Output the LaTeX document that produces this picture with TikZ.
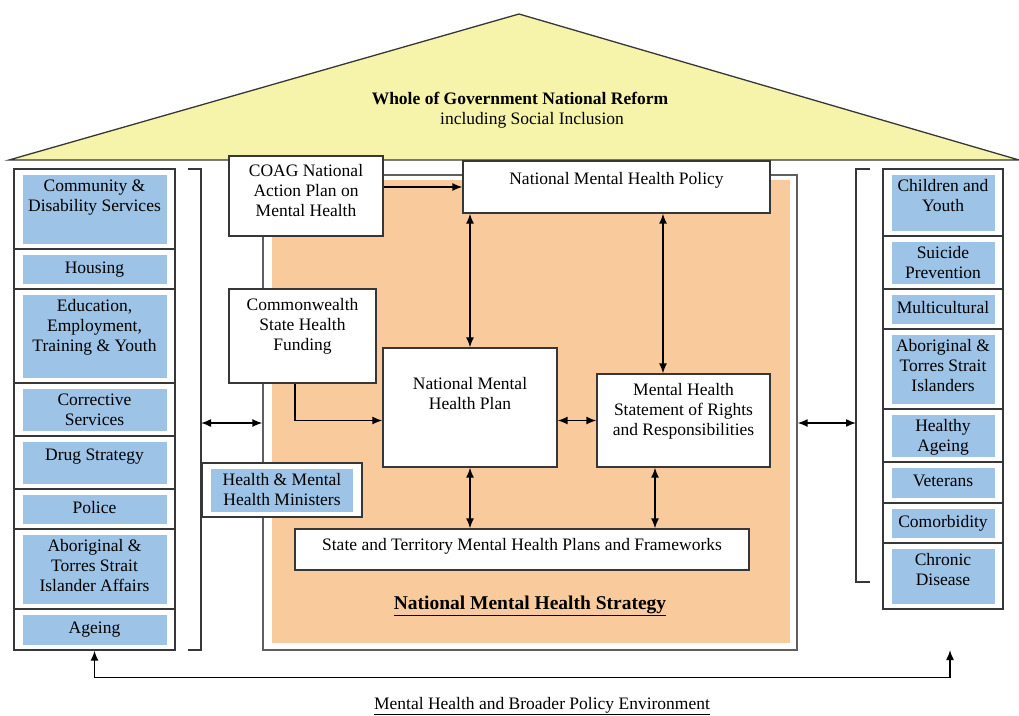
\documentclass[tikz,border=0pt]{standalone}
\usepackage{fontspec}
\setmainfont{Liberation Serif}
\usepackage{tikz}
\usetikzlibrary{arrows.meta}
\definecolor{roofy}{RGB}{246,244,170}
\definecolor{cellb}{RGB}{157,195,230}
\definecolor{strat}{RGB}{249,203,156}
\definecolor{edge}{RGB}{55,55,55}
\newcommand{\mhfont}{\fontsize{17.5}{20}\selectfont}
\newcommand{\mhrow}[6]{%
\draw[rowline] (#2,#5) -- (#3,#5);
\node[cell,minimum width={(#3-#2-17)*1pt},minimum height={(#5-#4-11)*1pt}] (#1) at ({(#2+#3)/2},{(#4+#5)/2}) {};
\node[btext,yshift=-5pt] (#1t) at (#1.north) {#6};}

\begin{document}
\begin{tikzpicture}[x=1pt,y=-1pt,
  box/.style={draw=edge,line width=1.3pt,fill=white,inner sep=0pt},
  rowline/.style={draw=edge,line width=1.3pt},
  cell/.style={fill=cellb,inner sep=0pt},
  btext/.style={anchor=north,inner sep=0pt,align=center,font=\mhfont,execute at begin node=\strut},
  arrone/.style={-{Latex[length=10pt,width=8pt]},line width=1.5pt},
  arrtwo/.style={{Latex[length=10pt,width=8pt]}-{Latex[length=10pt,width=8pt]},line width=1.5pt}]
\useasboundingbox (0,0) rectangle (1019,715);

\draw[rowline,fill=roofy] (9,160) -- (519,14) -- (1019,160) -- cycle;
\node[anchor=base,font=\mhfont\bfseries,inner sep=0pt] (reform) at (520,104) {Whole of Government National Reform};
\node[anchor=base,font=\mhfont,inner sep=0pt] (incl) at (532,124) {including Social Inclusion};

\node[box,minimum width=161pt,minimum height=481pt] (colL) at (94.5,409.5) {};
\mhrow{L1}{14}{175}{169}{249}{Community \&\\Disability Services}
\mhrow{L2}{14}{175}{249}{289}{Housing}
\mhrow{L3}{14}{175}{289}{383}{Education,\\Employment,\\Training \& Youth}
\mhrow{L4}{14}{175}{383}{436}{Corrective\\Services}
\mhrow{L5}{14}{175}{436}{489}{Drug Strategy}
\mhrow{L6}{14}{175}{489}{529}{Police}
\mhrow{L7}{14}{175}{529}{609}{Aboriginal \&\\Torres Strait\\Islander Affairs}
\mhrow{L8}{14}{175}{609}{650}{Ageing}

\node[box,minimum width=120pt,minimum height=440pt] (colR) at (943,389) {};
\mhrow{R1}{883}{1003}{169}{236}{Children and\\Youth}
\mhrow{R2}{883}{1003}{236}{289}{Suicide\\Prevention}
\mhrow{R3}{883}{1003}{289}{329}{Multicultural}
\mhrow{R4}{883}{1003}{329}{409}{Aboriginal \&\\Torres Strait\\Islanders}
\mhrow{R5}{883}{1003}{409}{462}{Healthy\\Ageing}
\mhrow{R6}{883}{1003}{462}{503}{Veterans}
\mhrow{R7}{883}{1003}{503}{543}{Comorbidity}
\mhrow{R8}{883}{1003}{543}{609}{Chronic\\Disease}

\draw[rowline] (188,169) -- (201,169) -- (201,650) -- (188,650);
\coordinate (brL) at (201,423);
\draw[rowline] (870,169) -- (856,169) -- (856,582) -- (870,582);
\coordinate (brR) at (856,423);

\node[box,draw=edge!80,minimum width=534pt,minimum height=475pt] (nmhs) at (530,412.5) {};
\fill[strat] (272,180) rectangle (790,643);
\node[anchor=base,font=\fontsize{19.5}{22}\selectfont\bfseries,inner sep=0pt] (nmhsT) at (530,609) {\underline{National Mental Health Strategy}};

\node[box,minimum width=154pt,minimum height=80pt] (coag) at (306,196) {};
\node[btext,yshift=-9pt] (coagT) at (coag.north) {COAG National\\Action Plan on\\Mental Health};
\node[box,minimum width=307pt,minimum height=52pt] (pol) at (616.5,187) {};
\node[btext,yshift=-9.5pt] (polT) at (pol.north) {National Mental Health Policy};
\node[box,minimum width=147pt,minimum height=94pt] (cwf) at (302.5,336) {};
\node[btext,yshift=-10pt] (cwfT) at (cwf.north) {Commonwealth\\State Health\\Funding};
\node[box,minimum width=174pt,minimum height=119pt] (plan) at (470,407.5) {};
\node[btext,yshift=-30pt] (planT) at (plan.north) {National Mental\\Health Plan};
\node[box,minimum width=173pt,minimum height=93pt] (srr) at (683.5,420.5) {};
\node[btext,yshift=-10pt] (srrT) at (srr.north) {Mental Health\\Statement of Rights\\and Responsibilities};
\node[box,minimum width=454pt,minimum height=41pt] (stp) at (522,549.5) {};
\node[btext,yshift=-8pt] (stpT) at (stp.north) {State and Territory Mental Health Plans and Frameworks};
\node[box,minimum width=160pt,minimum height=54pt] (mins) at (282,490) {};
\node[cell,minimum width=142pt,minimum height=43pt,align=center,font=\mhfont] (minsB) at (mins) {Health \& Mental\\Health Ministers};

\coordinate (srrN) at ([xshift=-20.5pt]srr.north);
\coordinate (srrS) at ([xshift=-28.5pt]srr.south);
\coordinate (cwfS) at ([xshift=-7.5pt]cwf.south);
\coordinate (envR) at (950,650);

\draw[arrone] (coag.east |- pol.west) -- (pol.west);
\draw[arrtwo] (pol.south -| plan.north) -- (plan.north);
\draw[arrtwo] (srrN |- pol.south) -- (srrN);
\draw[arrtwo] (plan.east |- srr.west) -- (srr.west);
\draw[arrtwo] (plan.south) -- (plan.south |- stp.north);
\draw[arrtwo] (srrS) -- (srrS |- stp.north);
\draw[arrone] (cwfS) |- (plan.west |- srr.west);
\draw[arrtwo] (brL) -- (brL -| nmhs.west);
\draw[arrtwo] (nmhs.east |- brR) -- (brR);
\draw[arrtwo] (colL.south) -- ++(0,27) -| (envR);
\node[anchor=base,font=\mhfont,inner sep=0pt] (envT) at (542,709) {\underline{Mental Health and Broader Policy Environment}};
\end{tikzpicture}
\end{document}
